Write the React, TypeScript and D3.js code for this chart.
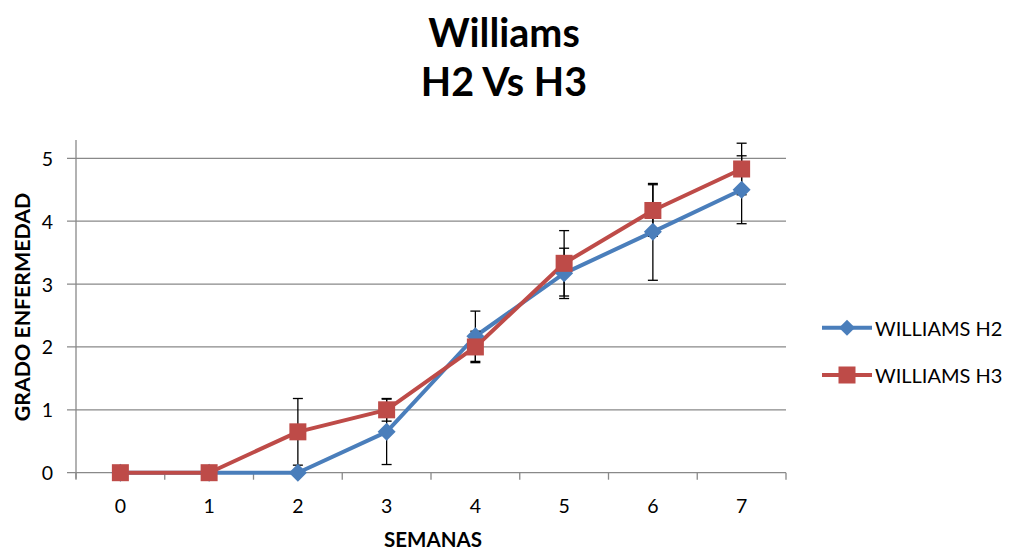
import React from "react";
import * as d3 from "d3";

const semanas = [0, 1, 2, 3, 4, 5, 6, 7];
const h2Values = [0, 0, 0, 0.65, 2.17, 3.17, 3.83, 4.5];
const h2Errors = [0, 0, 0, 0.52, 0.4, 0.4, 0.77, 0.54];
const h3Values = [0, 0, 0.65, 1.0, 2.0, 3.33, 4.17, 4.83];
const h3Errors = [0, 0, 0.53, 0.18, 0.25, 0.52, 0.41, 0.41];
const yTicks = [0, 1, 2, 3, 4, 5];
const seriesNames = ["WILLIAMS H2", "WILLIAMS H3"];
const titleLines = ["Williams", "H2 Vs H3"];

const FONT = "Lato, 'Open Sans', sans-serif";
const BLUE = "#4A7EBB";
const RED = "#BE4B48";
const GRID = "#898989";

export default function App() {
  const W = 1011, H = 552;
  const left = 76, right = 786, top = 158.3, bottom = 472.7;
  const x = d3.scaleBand<number>().domain(semanas).range([left, right]);
  const cx = (d: number) => (x(d) as number) + x.bandwidth() / 2;
  const y = d3.scaleLinear().domain([0, 5]).range([bottom, top]);

  const line = d3.line<number>().x((_, i) => cx(semanas[i])).y((v) => y(v));

  const series = [
    { name: seriesNames[0], vals: h2Values, errs: h2Errors, color: BLUE, marker: "diamond" },
    { name: seriesNames[1], vals: h3Values, errs: h3Errors, color: RED, marker: "square" },
  ];

  const marker = (m: string, px: number, py: number, color: string, key: string) =>
    m === "square" ? (
      <rect key={key} x={px - 8.5} y={py - 8.5} width={17} height={17} fill={color} />
    ) : (
      <path key={key} d={`M${px},${py - 9}L${px + 9},${py}L${px},${py + 9}L${px - 9},${py}Z`} fill={color} />
    );

  const boundaries = semanas.map((d) => x(d) as number).concat([right]);

  return (
    <svg width={W} height={H} style={{ position: "absolute", left: 0, top: 0, background: "#fff" }}>
      <rect width={W} height={H} fill="#fff" />
      {/* Title */}
      <text x={504} y={46.5} textAnchor="middle" fontFamily={FONT} fontWeight={700} fontSize={39.5} fill="#000">
        {titleLines[0]}
      </text>
      <text x={504} y={95.5} textAnchor="middle" fontFamily={FONT} fontWeight={700} fontSize={39.5} fill="#000">
        {titleLines[1]}
      </text>

      {/* gridlines */}
      {yTicks.map((t) => (
        <g key={"g" + t}>
          <line x1={67} x2={right} y1={y(t)} y2={y(t)} stroke={GRID} strokeWidth={1.3} />
          <text x={53} y={y(t) + 7.5} textAnchor="end" fontFamily={FONT} fontSize={19.5} fill="#000">
            {t}
          </text>
        </g>
      ))}
      {/* y axis */}
      <line x1={left} x2={left} y1={140} y2={bottom + 6} stroke={GRID} strokeWidth={1.3} />
      {/* x axis ticks */}
      {boundaries.map((b, i) => (
        <line key={"xt" + i} x1={b} x2={b} y1={bottom} y2={bottom + 7} stroke={GRID} strokeWidth={1.3} />
      ))}
      {semanas.map((s) => (
        <text key={"xl" + s} x={cx(s)} y={513} textAnchor="middle" fontFamily={FONT} fontSize={19.5} fill="#000">
          {s}
        </text>
      ))}

      {/* axis titles */}
      <text x={433} y={547} textAnchor="middle" fontFamily={FONT} fontWeight={700} fontSize={20.5} fill="#000">
        SEMANAS
      </text>
      <text
        transform={`translate(29.5,307) rotate(-90)`}
        textAnchor="middle"
        fontFamily={FONT}
        fontWeight={700}
        fontSize={21.3}
        fill="#000"
      >
        GRADO ENFERMEDAD
      </text>

      {/* series lines */}
      {series.map((s) => (
        <path key={"l" + s.name} d={line(s.vals) as string} fill="none" stroke={s.color} strokeWidth={4} strokeLinejoin="round" />
      ))}
      {/* error bars */}
      {series.map((s) =>
        s.vals.map((v, i) => {
          const px = cx(semanas[i]);
          const y1 = y(v + s.errs[i]);
          const y2 = y(v - s.errs[i]);
          return (
            <g key={"e" + s.name + i} stroke="#000" strokeWidth={1.3}>
              <line x1={px} x2={px} y1={y1} y2={y2} />
              <line x1={px - 5} x2={px + 5} y1={y1} y2={y1} />
              <line x1={px - 5} x2={px + 5} y1={y2} y2={y2} />
            </g>
          );
        })
      )}
      {/* markers */}
      {series.map((s) => s.vals.map((v, i) => marker(s.marker, cx(semanas[i]), y(v), s.color, "m" + s.name + i)))}

      {/* legend */}
      {series.map((s, i) => {
        const ly = 327.7 + i * 47.3;
        return (
          <g key={"lg" + i}>
            <line x1={822} x2={872} y1={ly} y2={ly} stroke={s.color} strokeWidth={4} />
            {s.marker === "square" ? (
              <rect x={847 - 8.5} y={ly - 8.5} width={17} height={17} fill={s.color} />
            ) : (
              <path d={`M847,${ly - 8}L855,${ly}L847,${ly + 8}L839,${ly}Z`} fill={s.color} />
            )}
            <text x={875} y={ly + 8} fontFamily={FONT} fontSize={20} fill="#000">
              {s.name}
            </text>
          </g>
        );
      })}
    </svg>
  );
}
